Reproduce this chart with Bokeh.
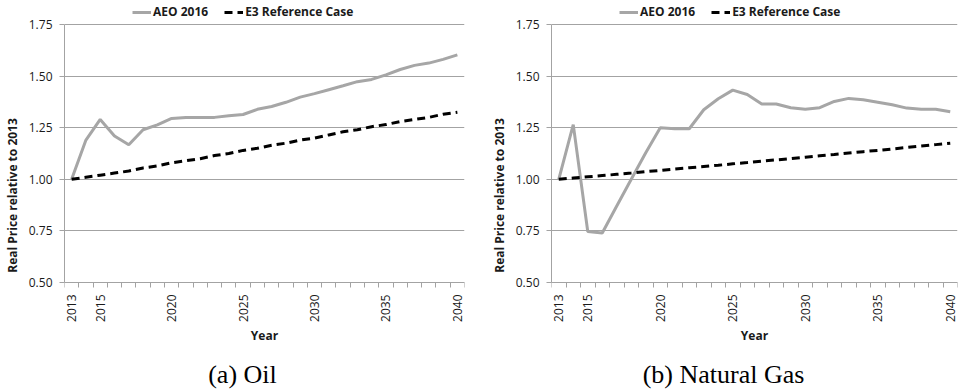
from math import pi

from bokeh.embed import file_html
from bokeh.layouts import row
from bokeh.models import (FixedTicker, Label, Legend, LegendItem,
                          NumeralTickFormatter, Range1d)
from bokeh.plotting import figure
from bokeh.resources import INLINE

# ---- data -------------------------------------------------------------
years = list(range(2013, 2041))
label_years = [2013, 2015, 2020, 2025, 2030, 2035, 2040]
y_ticks = [0.50, 0.75, 1.00, 1.25, 1.50, 1.75]

oil_aeo = [1.00, 1.19, 1.29, 1.21, 1.167, 1.24, 1.264, 1.295, 1.30, 1.30,
           1.30, 1.308, 1.314, 1.339, 1.353, 1.373, 1.398, 1.415, 1.434, 1.453,
           1.473, 1.484, 1.506, 1.532, 1.552, 1.563, 1.581, 1.603]
oil_e3 = [1.00, 1.01, 1.02, 1.03, 1.04, 1.055, 1.065, 1.08, 1.09, 1.10,
          1.115, 1.125, 1.14, 1.15, 1.165, 1.175, 1.19, 1.20, 1.215, 1.23,
          1.24, 1.255, 1.265, 1.28, 1.29, 1.30, 1.315, 1.325]

gas_aeo = [1.00, 1.265, 0.747, 0.74, 0.871, 1.00, 1.129, 1.25, 1.245, 1.245,
           1.337, 1.39, 1.432, 1.411, 1.365, 1.365, 1.347, 1.339, 1.347, 1.377,
           1.392, 1.385, 1.373, 1.361, 1.345, 1.339, 1.339, 1.327]
gas_e3 = [1.00, 1.006, 1.012, 1.018, 1.024, 1.03, 1.037, 1.043, 1.05, 1.056,
          1.062, 1.068, 1.075, 1.081, 1.088, 1.094, 1.10, 1.107, 1.114, 1.12,
          1.127, 1.134, 1.14, 1.147, 1.154, 1.161, 1.168, 1.175]

series_names = ["AEO 2016", "E3 Reference Case"]
captions = ["(a) Oil", "(b) Natural Gas"]

# ---- style / layout ---------------------------------------------------
FONT = "Open Sans"
AEO_COLOR = "#a6a6a6"
GRID_COLOR = "#a3a3a3"
TEXT_COLOR = "#1a1a1a"

CANVAS_H = 390
PLOT_TOP = 24      # canvas y of the top gridline
PLOT_BOTTOM = 282  # canvas y of the value axis start (x axis line)

# The frame covers the full canvas height: the legend above the chart and
# the caption below the year axis are drawn inside it, while the year axis
# is pinned to the bottom of the value range.
px_per_unit = (PLOT_BOTTOM - PLOT_TOP) / (y_ticks[-1] - y_ticks[0])
Y_TOP = y_ticks[-1] + PLOT_TOP / px_per_unit
Y_BOTTOM = y_ticks[0] - (CANVAS_H - PLOT_BOTTOM) / px_per_unit


def make_panel(aeo, e3, caption, border_left, border_right, legend_x, caption_x):
    p = figure(width=479, height=CANVAS_H, output_backend="svg", toolbar_location=None,
               x_range=Range1d(years[0] - 0.5, years[-1] + 0.5),
               y_range=Range1d(Y_BOTTOM, Y_TOP),
               min_border_left=border_left, min_border_right=border_right,
               min_border_top=0, min_border_bottom=0)
    p.outline_line_color = None
    p.background_fill_color = "white"
    p.border_fill_color = "white"

    r_aeo = p.line(years, aeo, line_color=AEO_COLOR, line_width=3)
    r_e3 = p.line(years, e3, line_color="black", line_width=3, line_dash="8 5")

    # x axis: ticks between the yearly categories, labels at selected years
    boundaries = [y - 0.5 for y in years] + [years[-1] + 0.5]
    xa = p.xaxis[0]
    xa.fixed_location = y_ticks[0]
    xa.ticker = FixedTicker(ticks=label_years, minor_ticks=boundaries)
    xa.major_tick_out = 0
    xa.major_tick_in = 0
    xa.minor_tick_out = 5
    xa.minor_tick_in = 0
    xa.minor_tick_line_color = GRID_COLOR
    xa.axis_line_color = GRID_COLOR
    xa.major_label_orientation = pi / 2
    xa.major_label_standoff = 7
    xa.major_label_text_font = FONT
    xa.major_label_text_font_size = "12px"
    xa.major_label_text_color = TEXT_COLOR
    xa.axis_label = "Year"
    xa.axis_label_text_font = FONT
    xa.axis_label_text_font_size = "12px"
    xa.axis_label_text_font_style = "bold"
    xa.axis_label_text_color = TEXT_COLOR
    xa.axis_label_standoff = 2

    ya = p.yaxis[0]
    ya.bounds = (y_ticks[0], y_ticks[-1])
    ya.ticker = FixedTicker(ticks=y_ticks, minor_ticks=[])
    ya.formatter = NumeralTickFormatter(format="0.00")
    ya.major_tick_out = 5
    ya.major_tick_in = 0
    ya.major_tick_line_color = GRID_COLOR
    ya.axis_line_color = GRID_COLOR
    ya.major_label_standoff = 7
    ya.major_label_text_font = FONT
    ya.major_label_text_font_size = "12px"
    ya.major_label_text_color = TEXT_COLOR
    ya.axis_label = "Real Price relative to 2013"
    ya.axis_label_text_font = FONT
    ya.axis_label_text_font_size = "12px"
    ya.axis_label_text_font_style = "bold"
    ya.axis_label_text_color = TEXT_COLOR
    ya.axis_label_standoff = 5

    p.xgrid.visible = False
    p.ygrid.ticker = FixedTicker(ticks=y_ticks)
    p.ygrid.grid_line_color = GRID_COLOR
    p.ygrid.grid_line_width = 1

    legend = Legend(items=[LegendItem(label=series_names[0], renderers=[r_aeo]),
                           LegendItem(label=series_names[1], renderers=[r_e3])],
                    orientation="horizontal", location=(legend_x, CANVAS_H - 20),
                    padding=0, margin=0, spacing=16, label_standoff=2,
                    glyph_width=19, glyph_height=14, label_height=14,
                    label_text_font=FONT, label_text_font_size="12px",
                    label_text_font_style="bold", label_text_color=TEXT_COLOR,
                    border_line_color=None, background_fill_alpha=0)
    p.add_layout(legend)

    p.add_layout(Label(x=caption_x, y=CANVAS_H - 374, x_units="screen", y_units="screen",
                       text=caption, text_align="center", text_baseline="middle",
                       text_font="Liberation Serif", text_font_size="26px",
                       text_color="black"))
    return p


left = make_panel(oil_aeo, oil_e3, captions[0], 58, 15, 68, 178)
right = make_panel(gas_aeo, gas_e3, captions[1], 72, 1, 68, 172)

layout = row(left, right)
open("out.html", "w").write(file_html(layout, INLINE))
